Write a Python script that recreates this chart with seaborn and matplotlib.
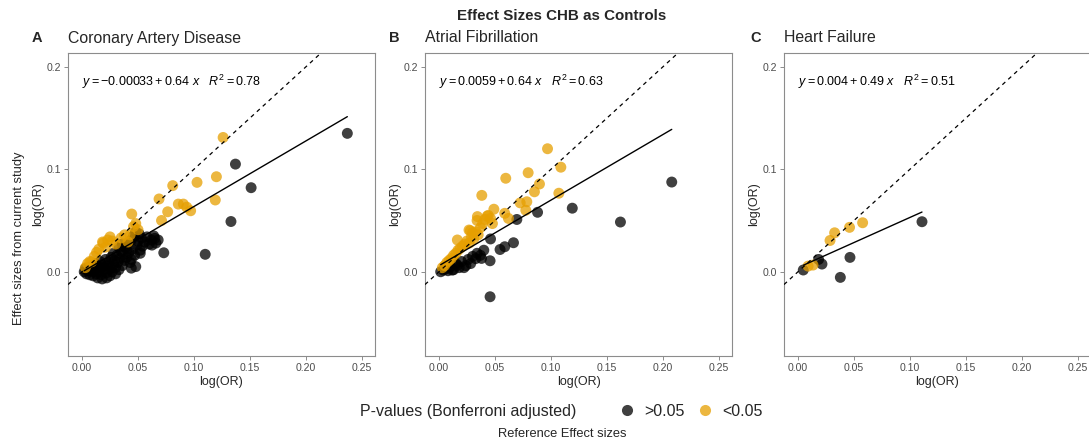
import numpy as np
import pandas as pd
import matplotlib
matplotlib.use("Agg")
import matplotlib.pyplot as plt
from matplotlib.lines import Line2D
import seaborn as sns

# ---------------- data ----------------
panels = ["Coronary Artery Disease", "Atrial Fibrillation", "Heart Failure"]
tags = ["A", "B", "C"]

cad_ns_x = [0.002, 0.003, 0.004, 0.005, 0.006, 0.007, 0.008, 0.009, 0.010, 0.010, 0.011, 0.012,
            0.013, 0.014, 0.015, 0.016, 0.017, 0.018, 0.019, 0.020, 0.021, 0.022, 0.023, 0.024,
            0.025, 0.026, 0.027, 0.028, 0.029, 0.030, 0.031, 0.032, 0.033, 0.034, 0.035, 0.036,
            0.037, 0.038, 0.039, 0.040, 0.041, 0.042, 0.043, 0.044, 0.045, 0.046, 0.047, 0.048,
            0.049, 0.050, 0.051, 0.052, 0.053, 0.054, 0.056, 0.058, 0.060, 0.062, 0.064, 0.066,
            0.068, 0.018, 0.022, 0.025, 0.014, 0.030, 0.044, 0.048, 0.044, 0.052, 0.065, 0.0625,
            0.073, 0.110, 0.133, 0.137, 0.151, 0.2369, 0.036, 0.040, 0.028, 0.033]
cad_ns_y = [0.000, 0.003, -0.002, 0.001, 0.004, -0.003, 0.002, 0.006, 0.000, -0.004, 0.003, 0.008,
            -0.002, 0.005, 0.001, 0.010, -0.003, 0.004, 0.007, 0.002, 0.012, -0.001, 0.006, 0.009,
            0.003, 0.014, 0.000, 0.007, 0.011, 0.004, 0.016, 0.009, 0.002, 0.013, 0.020, 0.006,
            0.017, 0.011, 0.024, 0.014, 0.028, 0.019, 0.009, 0.031, 0.022, 0.035, 0.016, 0.039,
            0.026, 0.030, 0.037, 0.021, 0.033, 0.025, 0.029, 0.034, 0.027, 0.031, 0.035, 0.028,
            0.031, -0.007, -0.006, -0.004, -0.006, -0.002, 0.0035, 0.005, 0.012, 0.018, 0.0326, 0.026,
            0.0185, 0.017, 0.049, 0.105, 0.082, 0.135, 0.027, 0.022, 0.018, 0.024]
cad_sig_x = [0.003, 0.005, 0.007, 0.0086, 0.011, 0.013, 0.015, 0.0183, 0.019, 0.021, 0.023, 0.025,
             0.027, 0.030, 0.035, 0.038, 0.041, 0.043, 0.0444, 0.046, 0.048, 0.050, 0.0688, 0.071,
             0.0765, 0.081, 0.086, 0.0905, 0.0935, 0.097, 0.1027, 0.119, 0.120, 0.126]
cad_sig_y = [0.004, 0.008, 0.010, 0.0097, 0.015, 0.019, 0.022, 0.029, 0.028, 0.024, 0.031, 0.034,
             0.030, 0.027, 0.033, 0.036, 0.029, 0.036, 0.0563, 0.044, 0.047, 0.041, 0.071, 0.050,
             0.0585, 0.084, 0.066, 0.066, 0.063, 0.0595, 0.0872, 0.070, 0.0927, 0.131]

af_ns_x = [0.0015, 0.004, 0.006, 0.008, 0.010, 0.0119, 0.013, 0.015, 0.0164, 0.018, 0.020, 0.0223,
           0.024, 0.026, 0.0283, 0.030, 0.0328, 0.034, 0.037, 0.038, 0.040, 0.0456, 0.046, 0.0456,
           0.0545, 0.0587, 0.0665, 0.0695, 0.088, 0.119, 0.162, 0.2078]
af_ns_y = [0.000, 0.0016, 0.003, 0.001, 0.005, 0.0016, 0.002, 0.008, 0.0065, 0.004, 0.010, 0.004,
           0.006, 0.012, 0.008, 0.015, 0.0128, 0.018, 0.016, 0.013, 0.021, 0.0107, 0.032, -0.0244,
           0.0217, 0.0244, 0.0283, 0.051, 0.058, 0.062, 0.0485, 0.0875]
af_sig_x = [0.003, 0.005, 0.007, 0.009, 0.011, 0.013, 0.015, 0.0164, 0.017, 0.019, 0.021, 0.023,
            0.025, 0.0268, 0.027, 0.028, 0.029, 0.030, 0.031, 0.033, 0.0343, 0.034, 0.035, 0.037,
            0.0382, 0.039, 0.041, 0.043, 0.044, 0.046, 0.0477, 0.049, 0.0587, 0.0596, 0.062,
            0.0725, 0.0775, 0.0784, 0.0796, 0.0852, 0.0897, 0.0969, 0.107, 0.1088]
af_sig_y = [0.004, 0.006, 0.009, 0.011, 0.013, 0.016, 0.018, 0.031, 0.021, 0.023, 0.025, 0.027,
            0.030, 0.0407, 0.028, 0.040, 0.034, 0.038, 0.032, 0.039, 0.0538, 0.050, 0.036, 0.043,
            0.0745, 0.047, 0.051, 0.0542, 0.055, 0.052, 0.047, 0.061, 0.057, 0.0912, 0.052,
            0.0672, 0.060, 0.0683, 0.0966, 0.078, 0.0856, 0.120, 0.0766, 0.102]

hf_ns_x = [0.0047, 0.0184, 0.0214, 0.0378, 0.0464, 0.1107]
hf_ns_y = [0.0017, 0.012, 0.0075, -0.0055, 0.014, 0.0488]
hf_sig_x = [0.009, 0.0134, 0.0286, 0.0327, 0.046, 0.0577]
hf_sig_y = [0.0055, 0.0065, 0.0305, 0.038, 0.0433, 0.0478]

fit_intercepts = [-0.00033, 0.0059, 0.004]
fit_slopes = [0.64, 0.64, 0.49]
fit_r2 = [0.78, 0.63, 0.51]
eq_labels = [r"$y = -0.00033 + 0.64\ x\quad R^2 = 0.78$",
             r"$y = 0.0059 + 0.64\ x\quad R^2 = 0.63$",
             r"$y = 0.004 + 0.49\ x\quad R^2 = 0.51$"]

x_ticks = [0.00, 0.05, 0.10, 0.15, 0.20, 0.25]
x_ticklabels = ["0.00", "0.05", "0.10", "0.15", "0.20", "0.25"]
y_ticks = [0.0, 0.1, 0.2]
y_ticklabels = ["0.0", "0.1", "0.2"]
p_levels = [">0.05", "<0.05"]

frames = []
for name, nx, ny, sx, sy in [
        (panels[0], cad_ns_x, cad_ns_y, cad_sig_x, cad_sig_y),
        (panels[1], af_ns_x, af_ns_y, af_sig_x, af_sig_y),
        (panels[2], hf_ns_x, hf_ns_y, hf_sig_x, hf_sig_y)]:
    frames.append(pd.DataFrame({"panel": name, "ref": nx, "cur": ny, "p": p_levels[0]}))
    frames.append(pd.DataFrame({"panel": name, "ref": sx, "cur": sy, "p": p_levels[1]}))
df = pd.concat(frames, ignore_index=True)

# ---------------- style ----------------
sns.set_theme(style="white")
plt.rcParams["font.family"] = ["Liberation Sans", "DejaVu Sans"]
plt.rcParams["mathtext.fontset"] = "custom"
plt.rcParams["mathtext.rm"] = "Liberation Sans"
plt.rcParams["mathtext.it"] = "Liberation Sans:italic"
plt.rcParams["mathtext.bf"] = "Liberation Sans:bold"

W, H = 1089, 444
fig = plt.figure(figsize=(W / 100, H / 100), dpi=100)
fig.patch.set_facecolor("white")

def fx(px):
    return px / W

def fy(py):
    return 1 - py / H

palette = {">0.05": "black", "<0.05": "#E69F00"}
ax_left = [68, 425, 784]
ax_w = 307
ax_top, ax_bot = 53, 356
xlim = (-0.0125, 0.2616)
ylim = (-0.0822, 0.2134)
tick_col = "#4D4D4D"
border_col = "#8C8C8C"

for i, name in enumerate(panels):
    ax = fig.add_axes([fx(ax_left[i]), fy(ax_bot), ax_w / W, (ax_bot - ax_top) / H])
    sub = df[df["panel"] == name]
    sns.scatterplot(data=sub, x="ref", y="cur", hue="p", hue_order=p_levels,
                    palette=palette, s=62, alpha=0.75, linewidth=0, ax=ax,
                    legend=False, zorder=2)
    ax.axline((0, 0), slope=1, color="black", lw=0.9, ls=(0, (3.2, 3.2)), zorder=3)
    xs = np.array([sub["ref"].min(), sub["ref"].max()])
    ax.plot(xs, fit_intercepts[i] + fit_slopes[i] * xs, color="black", lw=1.0, zorder=3)
    ax.text(0.0, 0.185, eq_labels[i], ha="left", va="center", fontsize=9.0, color="black")
    ax.set_xlim(*xlim)
    ax.set_ylim(*ylim)
    ax.set_xticks(x_ticks)
    ax.set_xticklabels(x_ticklabels)
    ax.set_yticks(y_ticks)
    ax.set_yticklabels(y_ticklabels)
    ax.tick_params(axis="both", which="both", direction="out", length=3, width=0.7,
                   color=border_col, labelcolor=tick_col, labelsize=7.6, pad=2,
                   bottom=True, left=True)
    for sp in ax.spines.values():
        sp.set_color(border_col)
        sp.set_linewidth(0.8)
    ax.set_xlabel("log(OR)", fontsize=9, labelpad=2.5)
    ax.set_ylabel("log(OR)", fontsize=9, labelpad=2)
    ax.grid(False)
    # panel title and tag
    fig.text(fx(ax_left[i]), fy(38), name, ha="left", va="center", fontsize=11.4)
    fig.text(fx([37, 394, 756][i]), fy(38), tags[i], ha="center", va="center",
             fontsize=10.5, fontweight="bold")

# overall title & shared labels
fig.text(fx(562), fy(16), "Effect Sizes CHB as Controls", ha="center", va="center",
         fontsize=10.9, fontweight="bold")
fig.text(fx(19), fy(238), "Effect sizes from current study", rotation=90,
         ha="center", va="center", fontsize=9.3)
fig.text(fx(562), fy(434), "Reference Effect sizes", ha="center", va="center", fontsize=9.3)

# legend
fig.text(fx(360), fy(411), "P-values (Bonferroni adjusted)", ha="left", va="center", fontsize=11.5)
handles = [Line2D([], [], marker="o", ls="", color=palette[k], alpha=0.75,
                  markersize=8, markeredgewidth=0) for k in p_levels]
fig.legend(handles, p_levels, loc="center left", bbox_to_anchor=(fx(619), fy(411)),
           ncol=2, frameon=False, fontsize=11.5, handlelength=1.0, handletextpad=0.6,
           columnspacing=0.75, borderaxespad=0, borderpad=0)

fig.savefig("out.png", dpi=100, facecolor="white")
